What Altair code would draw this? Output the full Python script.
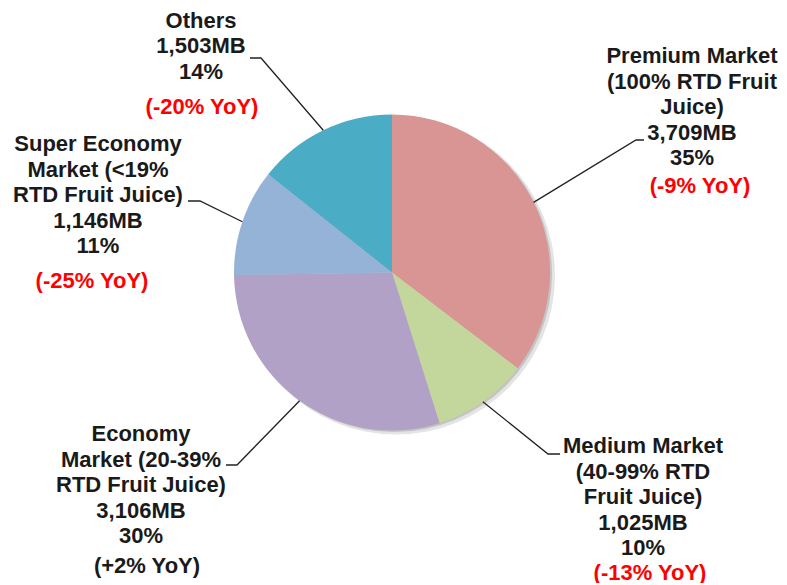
import math
import altair as alt
import pandas as pd

# ---- data ----
keys = ["Premium", "Medium", "Economy", "Super Economy", "Others"]
values_mb = [3709, 1025, 3106, 1146, 1503]
value_labels = ["3,709MB", "1,025MB", "3,106MB", "1,146MB", "1,503MB"]
share_labels = ["35%", "10%", "30%", "11%", "14%"]
yoy_labels = ["(-9% YoY)", "(-13% YoY)", "(+2% YoY)", "(-25% YoY)", "(-20% YoY)"]
yoy_negative = [True, True, False, True, True]
name_lines = [
    ["Premium Market", "(100% RTD Fruit", "Juice)"],
    ["Medium Market", "(40-99% RTD", "Fruit Juice)"],
    ["Economy", "Market (20-39%", "RTD Fruit Juice)"],
    ["Super Economy", "Market (<19%", "RTD Fruit Juice)"],
    ["Others"],
]
colors = ["#D99594", "#C3D69B", "#B2A1C7", "#95B3D7", "#4BACC6"]

# ---- layout (plot pixel coordinates) ----
W, H = 771, 575
CX, CY, R = 384, 264.5, 158
OFF = 8  # page margin, used to translate picture coordinates
# label block: centre x, first line y, YoY centre x, YoY y
label_pos = {
    "Premium": (692, 56, 700, 186),
    "Medium": (643, 446, 650, 572.5),
    "Economy": (141, 434, 147, 566),
    "Super Economy": (98, 144, 92, 281),
    "Others": (201, 20.5, 202, 107),
}
# leader elbow and end points
leader_pts = {
    "Premium": [(636, 140), (644, 140)],
    "Medium": [(548, 454), (560, 454)],
    "Economy": [(237, 465), (226, 465)],
    "Super Economy": [(200, 201), (188, 201)],
    "Others": [(261, 58), (250, 58)],
}
STEP = 25.5

total = sum(values_mb)
pie_df = pd.DataFrame({"key": keys, "value": values_mb, "o": list(range(len(keys)))})
shadow_df = pd.DataFrame({"v": [total]})

# leader lines start at the middle of each slice's arc
rows = []
cum = 0
for k, v in zip(keys, values_mb):
    mid = (cum + v / 2) / total * 2 * math.pi
    cum += v
    sx = CX + R * math.sin(mid)
    sy = CY - R * math.cos(mid)
    pts = [(sx, sy)] + [(px - OFF, py - OFF) for px, py in leader_pts[k]]
    for i, (px, py) in enumerate(pts):
        rows.append({"key": k, "o": i, "x": px, "y": py})
lead_df = pd.DataFrame(rows)

trows = []
for i, k in enumerate(keys):
    cx, y0, yx, yy = label_pos[k]
    lines = name_lines[i] + [value_labels[i], share_labels[i]]
    for j, t in enumerate(lines):
        trows.append({"text": t, "x": cx - OFF, "y": y0 + j * STEP - OFF, "col": "#1a1a1a"})
    trows.append({"text": yoy_labels[i], "x": yx - OFF, "y": yy - OFF,
                  "col": "#FF0000" if yoy_negative[i] else "#1a1a1a"})
text_df = pd.DataFrame(trows)

xs = alt.Scale(domain=[0, W], range=[0, W])
ys = alt.Scale(domain=[0, H], range=[0, H])

shadow1 = alt.Chart(shadow_df).mark_arc(radius=R + 1, color="#777777", opacity=0.2).encode(
    theta=alt.Theta("v:Q"), x=alt.value(CX + 4), y=alt.value(CY + 3))
shadow2 = alt.Chart(shadow_df).mark_arc(radius=R, color="#777777", opacity=0.3).encode(
    theta=alt.Theta("v:Q"), x=alt.value(CX + 2), y=alt.value(CY + 1.5))

pie = alt.Chart(pie_df).mark_arc(radius=R).encode(
    theta=alt.Theta("value:Q", stack=True),
    order=alt.Order("o:Q"),
    color=alt.Color("key:N", scale=alt.Scale(domain=keys, range=colors), legend=None),
    x=alt.value(CX), y=alt.value(CY),
)

leaders = alt.Chart(lead_df).mark_line(color="#222222", strokeWidth=1.3).encode(
    x=alt.X("x:Q", scale=xs, axis=None),
    y=alt.Y("y:Q", scale=ys, axis=None),
    detail="key:N",
    order="o:Q",
)

labels = alt.Chart(text_df).mark_text(
    font="Liberation Sans", fontSize=22, fontWeight="bold",
    align="center", baseline="middle",
).encode(
    x=alt.X("x:Q", scale=xs, axis=None),
    y=alt.Y("y:Q", scale=ys, axis=None),
    text="text:N",
    color=alt.Color("col:N", scale=None),
)

chart = alt.layer(shadow1, shadow2, pie, leaders, labels).properties(
    width=W, height=H, padding=0, autosize="none"
).configure_view(stroke=None)

chart.save("out.html", embed_options={"renderer": "svg", "actions": False})
